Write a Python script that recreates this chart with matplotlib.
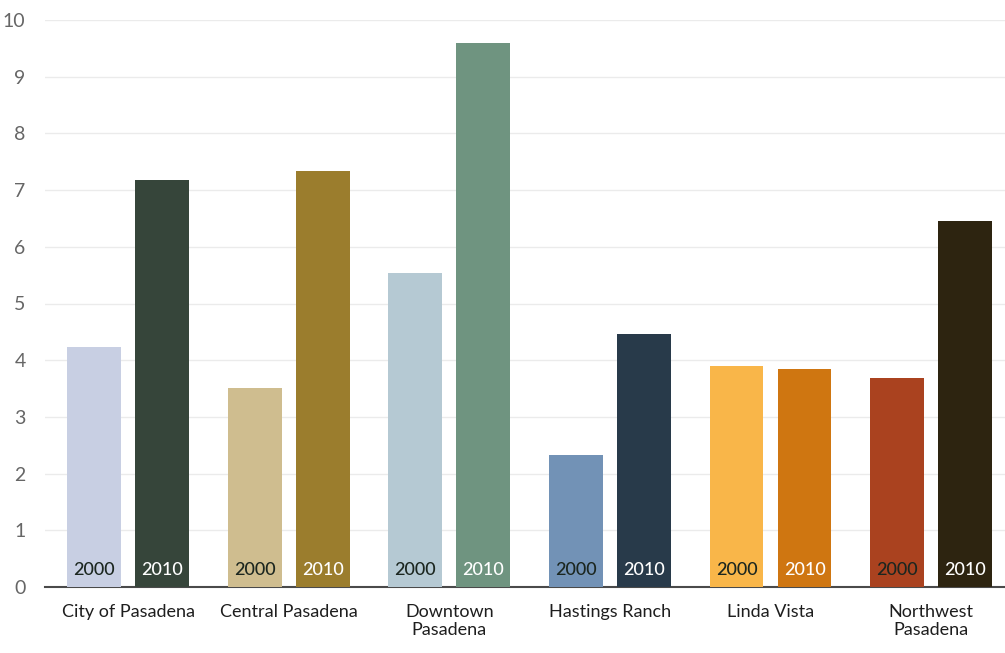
import matplotlib.pyplot as plt
import numpy as np

plt.rcParams['font.family'] = ['Lato', 'DejaVu Sans']

areas = ['City of Pasadena', 'Central Pasadena', 'Downtown\nPasadena',
         'Hastings Ranch', 'Linda Vista', 'Northwest\nPasadena']
vals_2000 = [4.23, 3.51, 5.54, 2.33, 3.90, 3.69]
vals_2010 = [7.18, 7.34, 9.59, 4.46, 3.84, 6.46]
colors_2000 = ['#c8cfe3', '#cfbd8f', '#b5c9d3', '#7292b6', '#f9b649', '#aa421f']
colors_2010 = ['#36453a', '#9b7d2d', '#6f9480', '#283a4a', '#cf7611', '#2d2410']

fig = plt.figure(figsize=(10.05, 6.53), dpi=100)
ax = fig.add_axes([45 / 1005, 66 / 653, 960 / 1005, 567 / 653])

x = np.arange(len(areas))
w = 0.335
off = 0.212

ax.bar(x - off, vals_2000, width=w, color=colors_2000, zorder=3)
ax.bar(x + off, vals_2010, width=w, color=colors_2010, zorder=3)

# year labels inside the bars
for i in x:
    ax.text(i - off, 0.3, '2000', ha='center', va='center', fontsize=13,
            fontweight='medium', color='#1b261f', zorder=4)
    ax.text(i + off, 0.3, '2010', ha='center', va='center', fontsize=13,
            fontweight='medium', color='white', zorder=4)

ax.set_xlim(-0.517, 5.46)
ax.set_ylim(0, 10)
ax.set_yticks(range(0, 11))
ax.set_xticks(x)
ax.set_xticklabels(areas, fontsize=13, color='#1e1e1e', linespacing=1.15)
ax.tick_params(axis='y', labelsize=14, colors='#666666', length=0, pad=14)
ax.tick_params(axis='x', length=0, pad=12)

for s in ['top', 'right', 'left']:
    ax.spines[s].set_visible(False)
ax.spines['bottom'].set_color('#4a4a4a')
ax.spines['bottom'].set_linewidth(1.5)

ax.grid(axis='y', color='#ebebeb', linewidth=1, zorder=0)

fig.savefig('out.png', dpi=100)
